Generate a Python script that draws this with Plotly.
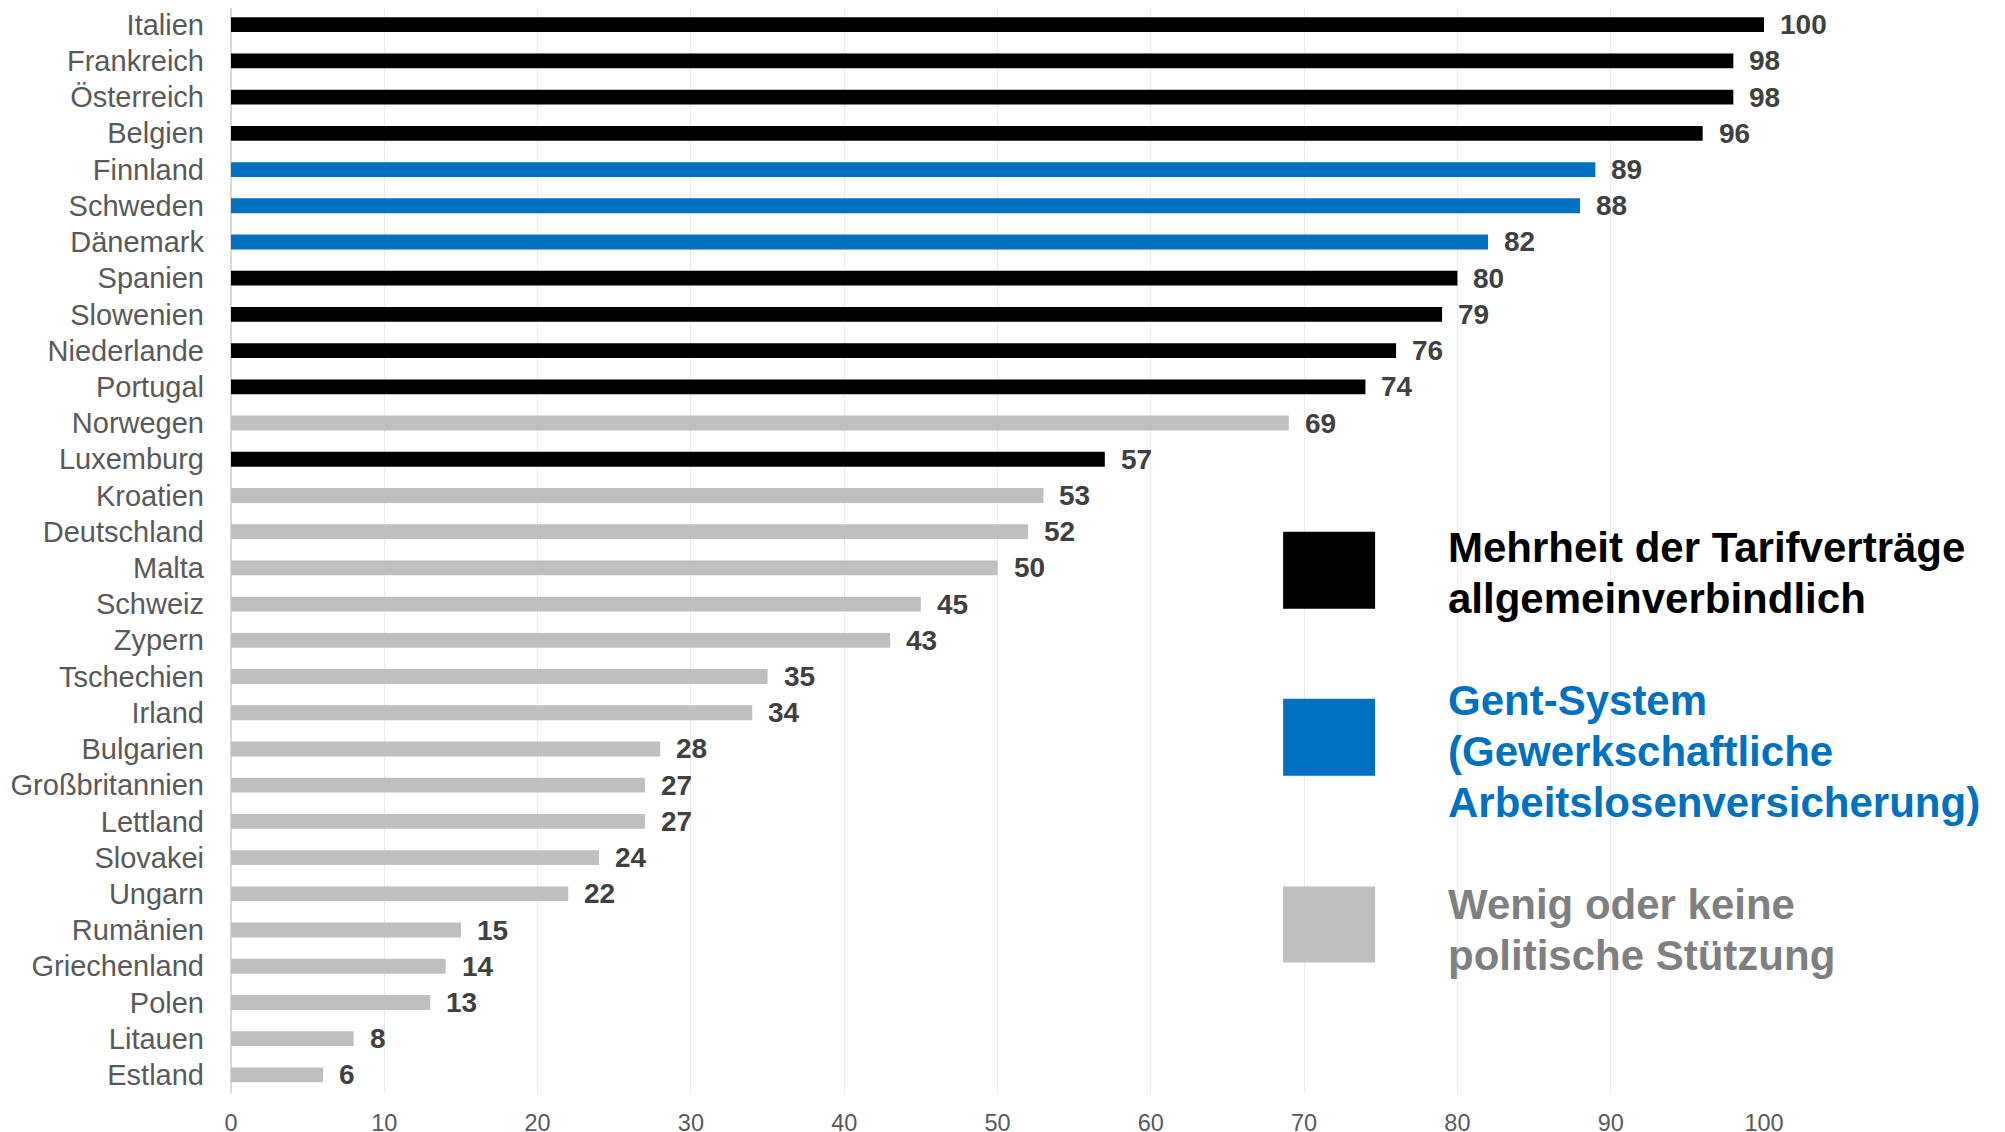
import plotly.graph_objects as go

countries = ["Italien", "Frankreich", "Österreich", "Belgien", "Finnland", "Schweden", "Dänemark",
             "Spanien", "Slowenien", "Niederlande", "Portugal", "Norwegen", "Luxemburg", "Kroatien",
             "Deutschland", "Malta", "Schweiz", "Zypern", "Tschechien", "Irland", "Bulgarien",
             "Großbritannien", "Lettland", "Slovakei", "Ungarn", "Rumänien", "Griechenland", "Polen",
             "Litauen", "Estland"]
values = [100, 98, 98, 96, 89, 88, 82, 80, 79, 76, 74, 69, 57, 53, 52, 50, 45, 43, 35, 34, 28,
          27, 27, 24, 22, 15, 14, 13, 8, 6]
groups = ["A", "A", "A", "A", "G", "G", "G", "A", "A", "A", "A", "W", "A", "W", "W", "W", "W", "W",
          "W", "W", "W", "W", "W", "W", "W", "W", "W", "W", "W", "W"]
group_lines = {
    "A": ["Mehrheit der Tarifverträge", "allgemeinverbindlich"],
    "G": ["Gent-System", "(Gewerkschaftliche", "Arbeitslosenversicherung)"],
    "W": ["Wenig oder keine", "politische Stützung"],
}
group_colors = {"A": "#000000", "G": "#0070C0", "W": "#BFBFBF"}
text_colors = {"A": "#000000", "G": "#0070C0", "W": "#7F7F7F"}
x_ticks = [0, 10, 20, 30, 40, 50, 60, 70, 80, 90, 100]

FONT = "Liberation Sans, Arial, sans-serif"

# layout constants (pixels)
W, H = 2005, 1132
ML, MT = 222.6, 0
PLOT_W = 1533.4
N = len(countries)
ROW_PX = 36.23
Y_TOP = -0.461
PLOT_H = (N - 0.5 - Y_TOP) * ROW_PX
MB = H - MT - PLOT_H
MR = W - ML - PLOT_W
PAGE_OFF = 8  # body margin of the html page


def px_y(page_y):
    return 1 - (page_y - PAGE_OFF - MT) / PLOT_H


def px_x(page_x):
    return (page_x - PAGE_OFF - ML) / PLOT_W


fig = go.Figure()
for g in ["A", "G", "W"]:
    ys = [c for c, gg in zip(countries, groups) if gg == g]
    xs = [v for v, gg in zip(values, groups) if gg == g]
    fig.add_trace(go.Bar(
        x=xs, y=ys, orientation="h", name=" ".join(group_lines[g]),
        marker=dict(color=group_colors[g], line=dict(width=0)),
        width=0.41, showlegend=False, hoverinfo="x+y",
    ))

# value labels
for c, v in zip(countries, values):
    fig.add_annotation(x=v, y=c, xref="x", yref="y", text=str(v), showarrow=False,
                       xanchor="left", yanchor="middle", xshift=14,
                       font=dict(family=FONT, size=28, color="#404040", weight="bold"))

# legend (shapes + annotations)
legend_box = {"A": (532, 609), "G": (699, 776), "W": (887, 963)}
legend_first_line = {"A": 548, "G": 701, "W": 905}
LINE_PX = 51
for g in ["A", "G", "W"]:
    top, bot = legend_box[g]
    fig.add_shape(type="rect", xref="paper", yref="paper", x0=px_x(1283), x1=px_x(1375),
                  y0=px_y(bot), y1=px_y(top), fillcolor=group_colors[g], line=dict(width=0))
    for i, line in enumerate(group_lines[g]):
        fig.add_annotation(x=px_x(1446), y=px_y(legend_first_line[g] + i * LINE_PX),
                           xref="paper", yref="paper", text=line, showarrow=False,
                           xanchor="left", yanchor="middle", align="left",
                           font=dict(family=FONT, size=42, color=text_colors[g], weight="bold"))

fig.update_layout(
    width=W, height=H,
    margin=dict(l=ML, r=MR, t=MT, b=MB, pad=0),
    plot_bgcolor="white", paper_bgcolor="white",
    barmode="overlay",
    font=dict(family=FONT),
    xaxis=dict(range=[0, 100], tickvals=x_ticks, showgrid=True, gridcolor="#EBEBEB", gridwidth=1,
               zeroline=True, zerolinecolor="#D9D9D9", zerolinewidth=2,
               tickfont=dict(size=23.5, color="#595959"), ticklabelstandoff=13, showline=False),
    yaxis=dict(categoryorder="array", categoryarray=countries, autorange=False,
               range=[N - 0.5, Y_TOP],
               tickfont=dict(size=29, color="#595959"), ticklabelstandoff=26, showgrid=False),
)

fig.write_html("out.html")
